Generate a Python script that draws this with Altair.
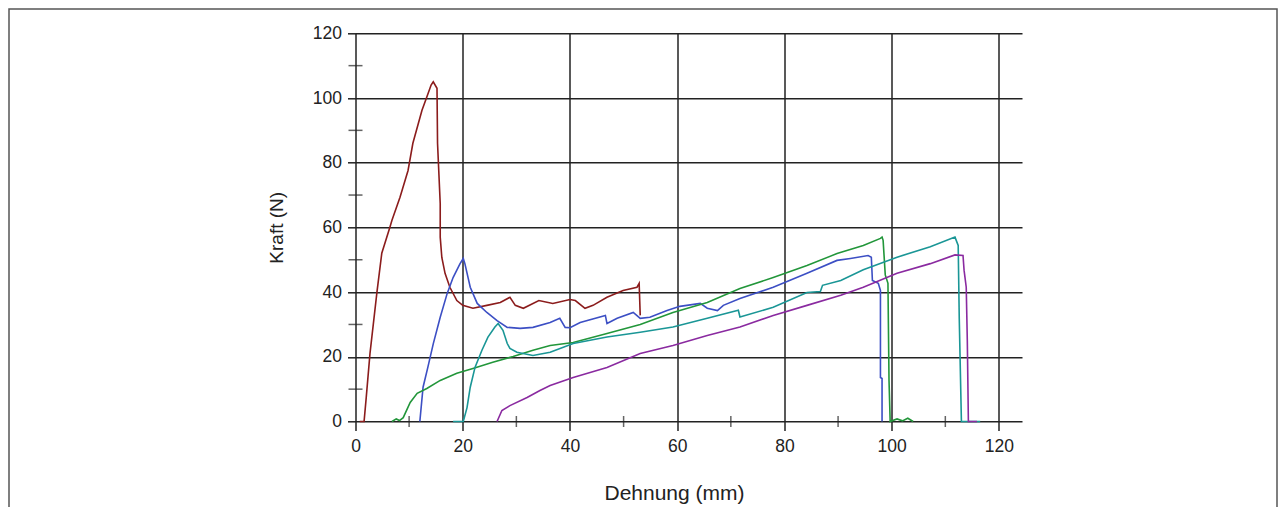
import altair as alt
import pandas as pd

# ---- data (Dehnung in mm, Kraft in N) ----
red_x = [0.8, 1.6, 2.0, 2.7, 4.0, 4.9, 6.4, 6.8, 8.3, 9.8, 10.7, 12.4, 13.3, 14.1, 14.5, 15.2, 15.3, 15.8,
         15.8, 16.1, 16.7, 17.6, 18.9, 20.0, 21.9, 24.5, 27.0, 28.8, 29.8, 31.3, 34.2, 36.8, 40.0, 41.0,
         42.8, 44.3, 46.9, 49.9, 52.5, 52.9, 53.1]
red_y = [0, 0, 7.4, 21, 40, 52, 60, 62.2, 69.3, 77.6, 86, 96.2, 100.3, 104, 105, 103, 86, 67.4,
         57, 50.7, 45.8, 41.5, 37.4, 35.9, 35, 35.9, 36.8, 38.4, 35.9, 35, 37.4, 36.5, 37.7, 37.4,
         35, 35.9, 38.4, 40.5, 41.5, 42.7, 32.8]

blue_x = [12.0, 12.6, 13.5, 14.5, 15.8, 17.1, 18.2, 19.5, 20.1, 20.4, 21.4, 22.7, 24.5, 26.4, 28.3, 30.7,
          33.1, 36.3, 38.1, 39.1, 40.0, 41.9, 46.6, 46.9, 48.8, 51.8, 53.1, 54.9, 58.1, 60.5, 64.3, 65.6,
          67.5, 68.6, 71.7, 77.9, 84.2, 89.8, 92.3, 95.6, 96.2, 96.4, 97.5, 97.9, 97.9, 98.2, 98.2]
blue_y = [0, 10.6, 16.8, 24, 32.2, 39.6, 44.5, 48.8, 50.4, 48.8, 41.5, 36.5, 33.7, 31.2, 29.1, 28.8,
          29.1, 30.6, 31.9, 29.1, 29, 30.6, 32.8, 30.3, 31.9, 33.7, 31.9, 32.2, 34.3, 35.6, 36.5, 35,
          34.3, 35.9, 38, 41.5, 45.8, 49.8, 50.4, 51.3, 50.8, 43.6, 42.7, 40.5, 13.6, 13.3, 0]

green_x = [6.8, 7.6, 8.2, 8.9, 10.2, 11.5, 13.3, 15.8, 18.9, 21.9, 25.6, 29.4, 33.1, 36.3, 40.6, 46.9,
           53.1, 59.2, 65.6, 71.7, 77.9, 84.2, 89.8, 94.7, 97.9, 98.2, 98.4, 98.8, 99.3, 99.5, 99.7,
           99.7, 101.0, 102.0, 103.0, 104.0]
green_y = [0, 0.8, 0.3, 1.2, 5.9, 8.7, 10.2, 12.7, 14.9, 16.4, 18.3, 20.1, 22, 23.5, 24.4, 27.2,
           30, 33.7, 36.8, 41.1, 44.5, 48.2, 51.9, 54.4, 56.6, 57, 56, 45.3, 42.7, 12.7, 0.9,
           0, 0.8, 0.2, 1.0, 0]

teal_x = [18.2, 20.1, 20.8, 21.4, 22.3, 23.6, 24.7, 26.0, 26.6, 27.5, 28.3, 28.8, 30.1, 33.1, 36.3,
          40.6, 46.9, 53.1, 59.2, 65.6, 71.4, 71.7, 77.9, 84.2, 86.7, 87.1, 90.5, 94.7, 101.0, 107.2,
          111.8, 112.4, 112.6, 113.0, 116.5]
teal_y = [0, 0, 4.3, 10.6, 16.8, 22.1, 26.1, 29.2, 30.3, 28.2, 24.1, 22.6, 21.4, 20.4, 21.4,
          24.1, 26.1, 27.6, 29.2, 31.9, 34.4, 32.3, 35.3, 39.9, 40.2, 42.1, 43.6, 46.9, 50.8, 54,
          57, 54.4, 31.8, 0, 0]

purple_x = [26.4, 27.3, 28.8, 32.0, 34.4, 36.3, 40.6, 46.9, 53.1, 59.2, 65.6, 71.7, 77.9, 84.2, 90.5,
            94.7, 101.0, 107.2, 111.8, 113.3, 113.5, 113.9, 114.1, 114.3, 115.9]
purple_y = [0, 3.4, 4.9, 7.4, 9.6, 11.1, 13.6, 16.7, 21, 23.5, 26.6, 29.2, 32.8, 35.9, 39,
            41.5, 45.8, 48.8, 51.5, 51.3, 46.7, 41.5, 25.1, 0, 0]

series_names = ["rot", "blau", "grün", "türkis", "violett"]
series_colors = ["#8b1c1c", "#3c4fc4", "#22963a", "#1a9696", "#8a2aa0"]

major_ticks = [0, 20, 40, 60, 80, 100, 120]
minor_ticks = [10, 30, 50, 70, 90, 110]

# ---- build table ----
rows = []
for name, xs, ys in zip(series_names,
                        [red_x, blue_x, green_x, teal_x, purple_x],
                        [red_y, blue_y, green_y, teal_y, purple_y]):
    for i, (a, b) in enumerate(zip(xs, ys)):
        rows.append({"serie": name, "x": a, "y": b, "i": i})
df = pd.DataFrame(rows)
minor_df = pd.DataFrame({"v": minor_ticks})

FONT = "Liberation Sans"
INK = "#222222"

xscale = alt.Scale(domain=[0, 124.3], nice=False, zero=False)
yscale = alt.Scale(domain=[0, 120], nice=False)

axis_common = dict(
    values=major_ticks, grid=True, gridColor=INK, gridWidth=1.5, gridOpacity=1,
    domain=False, ticks=True, tickColor=INK, tickWidth=1.5,
    labelFont=FONT, labelFontSize=17.5, labelColor=INK, labelFlush=False, labelOverlap=False,
    titleFont=FONT, titleFontWeight="normal", titleColor=INK,
)

lines = alt.Chart(df).mark_line(strokeWidth=1.6, interpolate="linear").encode(
    x=alt.X("x:Q", scale=xscale,
            axis=alt.Axis(title="Dehnung (mm)", tickSize=9, labelPadding=7,
                          titleFontSize=21, titleX=318.5, titleY=78, titleAlign="center",
                          titleBaseline="alphabetic", **axis_common)),
    y=alt.Y("y:Q", scale=yscale,
            axis=alt.Axis(title="Kraft (N)", tickSize=8, labelPadding=6,
                          titleFontSize=19, titleX=-79.5, titleY=194, titleAlign="center",
                          titleBaseline="middle", titleAngle=270, **axis_common)),
    color=alt.Color("serie:N", scale=alt.Scale(domain=series_names, range=series_colors), legend=None),
    detail="serie:N",
    order=alt.Order("i:Q"),
)

xminor = alt.Chart(minor_df).mark_tick(orient="vertical", size=11, thickness=1.5, color=INK).encode(
    x=alt.X("v:Q", scale=xscale),
    y=alt.datum(0, scale=yscale),
)
yminor = alt.Chart(minor_df).mark_tick(orient="horizontal", size=14, thickness=1.5, color=INK).encode(
    y=alt.Y("v:Q", scale=yscale),
    x=alt.datum(0, scale=xscale),
)

frame = alt.Chart(pd.DataFrame({"f": [0]})).mark_rect(
    fill="transparent", stroke="#555555", strokeWidth=1.5
).encode(
    x=alt.value(-346.5), x2=alt.value(921.5), y=alt.value(-24.3), y2=alt.value(600)
)

chart = alt.layer(xminor, yminor, lines, frame).properties(
    width=666.5, height=388.2,
    autosize=alt.AutoSizeParams(type="none"),
    padding={"left": 347.5, "top": 25.3, "right": 256, "bottom": 85},
).configure_view(strokeWidth=0)

chart.save("out.html", embed_options={"renderer": "svg", "actions": False})
